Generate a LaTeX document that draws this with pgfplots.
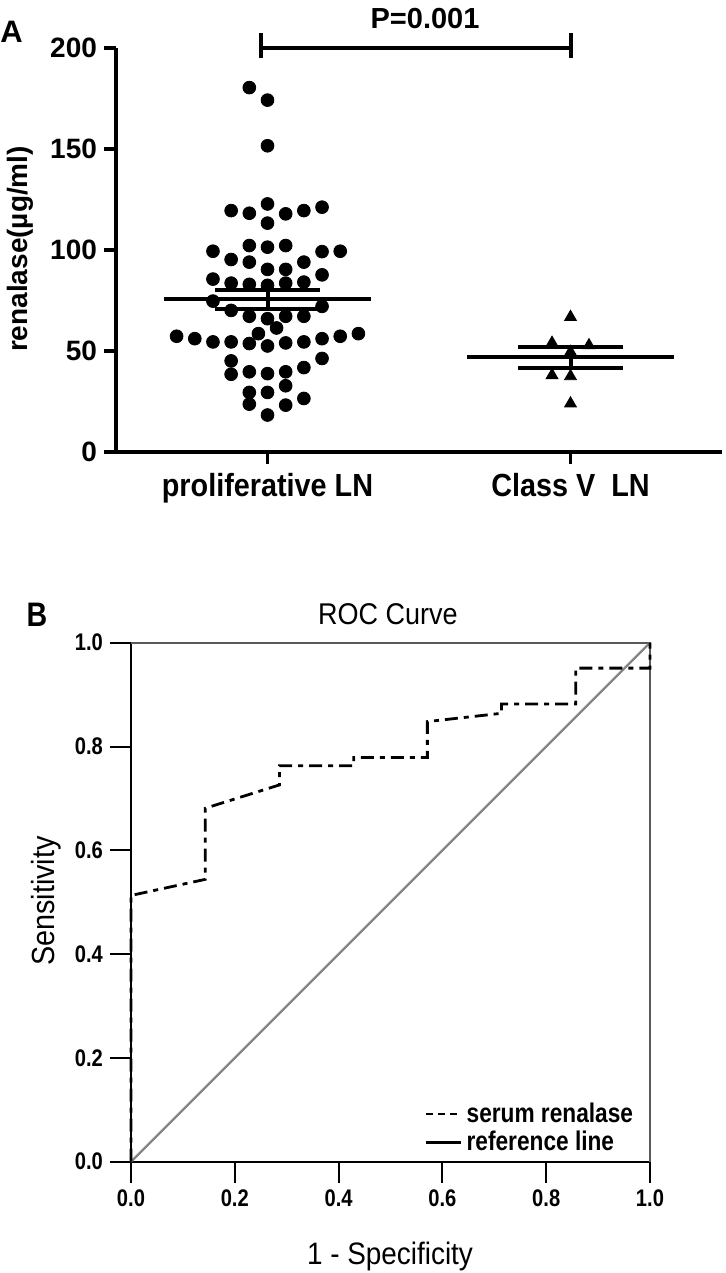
\documentclass[border=0pt]{standalone}
\usepackage{fontspec}
\setmainfont{Liberation Sans}
\newfontfamily\narrow{Liberation Sans}[FakeStretch=0.84]
\newfontfamily\semi{Liberation Sans}[FakeStretch=0.9]
\usepackage{pgfplots}
\pgfplotsset{compat=1.18}
\usepackage{pgfplotstable}

\pgfplotstableread{
x y
0.940 180.4
1.000 174.2
1.000 151.6
1.000 122.8
0.880 119.5
0.940 118.2
1.060 117.9
1.120 119.5
1.180 121.2
1.000 113.3
0.940 102.2
1.000 101.4
1.060 102.2
0.820 99.4
1.180 99.2
1.240 99.4
0.880 95.3
0.940 94.0
1.120 94.0
1.000 90.4
1.060 90.4
0.820 85.6
1.180 87.7
0.880 83.6
0.940 83.0
1.000 82.5
1.060 83.6
1.120 84.1
0.820 74.7
1.180 72.1
0.880 70.1
0.940 67.2
1.000 66.0
1.060 67.2
1.120 67.2
1.030 61.4
0.970 58.6
0.700 57.3
0.760 56.1
0.820 54.5
0.880 54.5
0.940 53.7
1.000 52.5
1.060 54.0
1.120 54.5
1.180 56.1
1.240 57.3
1.300 58.6
0.880 45.1
1.180 46.3
0.880 38.5
0.940 39.7
1.000 38.8
1.060 39.7
1.120 41.8
0.940 29.5
1.000 29.5
1.060 32.8
0.940 23.7
1.060 23.2
1.120 26.5
1.000 18.3
}\prolif

\pgfplotstableread{
x y
2.000 66.8
1.939 54.0
2.061 52.8
2.000 49.5
1.939 38.0
2.000 37.5
2.000 24.0
}\classv

\pgfplotstableread{
x y
0.000 0.000
0.000 0.513
0.143 0.544
0.143 0.681
0.286 0.726
0.286 0.763
0.429 0.763
0.429 0.779
0.571 0.779
0.571 0.848
0.714 0.864
0.714 0.882
0.857 0.882
0.857 0.951
1.000 0.951
1.000 1.000
}\roc

\begin{document}
\begin{tikzpicture}
\useasboundingbox (0,0) rectangle (363pt,-636.5pt);

% ---------------- Panel A ----------------
\begin{axis}[
  at={(58pt,-226pt)}, anchor=south west,
  scale only axis, width=303pt, height=202pt,
  xmin=0.5, xmax=2.5, ymin=0, ymax=200,
  axis x line=bottom, axis y line=left,
  axis line style={-, line width=2pt, black},
  xtick={1,2}, xticklabels={proliferative LN, Class V\ \ LN},
  ytick={0,50,100,150,200},
  tick align=outside, major tick length=6pt,
  tick style={line width=1.8pt, black},
  yticklabel style={font=\fontsize{14}{16}\selectfont\bfseries},
  xticklabel style={font=\semi\bfseries\fontsize{16}{18}\selectfont, yshift=-1pt},
  /pgf/number format/assume math mode=true,
  clip=false,
]
\addplot[only marks, mark=*, mark size=3.2pt, mark options={fill=black, draw=black}] table {\prolif};
\addplot[only marks, mark=triangle*, mark size=3.4pt, mark options={fill=black, draw=black}] table {\classv};
% mean and SEM, group 1
\addplot[black, line width=2pt] coordinates {(0.66,75.5) (1.34,75.5)};
\addplot[black, line width=2pt] coordinates {(0.828,80.3) (1.172,80.3)};
\addplot[black, line width=2pt] coordinates {(0.828,71.0) (1.172,71.0)};
\addplot[black, line width=2pt] coordinates {(1,71.0) (1,80.3)};
% mean and SEM, group 2
\addplot[black, line width=2pt] coordinates {(1.66,46.8) (2.34,46.8)};
\addplot[black, line width=2pt] coordinates {(1.828,52.0) (2.172,52.0)};
\addplot[black, line width=2pt] coordinates {(1.828,41.5) (2.172,41.5)};
\addplot[black, line width=2pt] coordinates {(2,41.5) (2,52.0)};
% significance bracket
\addplot[black, line width=2pt] coordinates {(0.977,200) (2,200)};
\addplot[black, line width=2pt] coordinates {(0.977,195) (0.977,207.4)};
\addplot[black, line width=2pt] coordinates {(2,195) (2,207.4)};
\node[font=\fontsize{14.5}{16}\selectfont\bfseries] at (axis cs:1.52,214.8) {P=0.001};
\end{axis}

\node[font=\fontsize{15.5}{17}\selectfont\bfseries] at (5.75pt,-16pt) {A};
\node[rotate=90, font=\fontsize{14}{16}\selectfont\bfseries] at (10pt,-124.5pt) {renalase(µg/ml)};

% ---------------- Panel B ----------------
\begin{axis}[
  at={(65.5pt,-580.85pt)}, anchor=south west,
  scale only axis, width=259.5pt, height=259.5pt,
  xmin=0, xmax=1, ymin=0, ymax=1,
  axis x line=bottom, axis y line=left,
  axis line style={-, line width=1pt, black},
  xtick={0,0.2,0.4,0.6,0.8,1}, ytick={0,0.2,0.4,0.6,0.8,1},
  tick align=outside, major tick length=10.5pt,
  tick style={line width=1pt, black},
  ticklabel style={font=\narrow\bfseries\fontsize{12}{14}\selectfont},
  /pgf/number format/fixed, /pgf/number format/fixed zerofill,
  /pgf/number format/precision=1,
  /pgf/number format/assume math mode=true,
  clip=false,
  legend style={draw=none, fill=none, at={(rel axis cs:0.565,0.007)}, anchor=south west,
    font=\narrow\bfseries\fontsize{13.5}{15}\selectfont, inner sep=0pt, row sep=-1pt},
  legend cell align=left,
  legend image code/.code={\draw[#1] (0pt,0pt) -- (17.5pt,0pt);},
]
\draw[black!65, line width=0.9pt] (rel axis cs:0,1) -- (rel axis cs:1,1) -- (rel axis cs:1,0);
\addplot[color={rgb,1:red,0.52;green,0.52;blue,0.52}, line width=1.1pt, forget plot] coordinates {(0,0) (1,1)};
\addplot[black, line width=1.4pt, dash pattern=on 6.5pt off 3pt on 2.5pt off 3pt, forget plot] table {\roc};
\addlegendimage{black, line width=1.3pt, dash pattern=on 3.5pt off 2.5pt}
\addlegendentry{serum renalase}
\addlegendimage{black, line width=1.5pt}
\addlegendentry{reference line}
\end{axis}

\node[font=\narrow\bfseries\fontsize{17}{19}\selectfont] at (18.5pt,-307.25pt) {B};
\node[font=\semi\fontsize{15}{17}\selectfont] at (194pt,-307.25pt) {ROC Curve};
\node[font=\semi\fontsize{15.5}{17}\selectfont] at (195pt,-628pt) {1 - Specificity};
\node[rotate=90, font=\semi\fontsize{16}{18}\selectfont] at (23pt,-450.5pt) {Sensitivity};
\end{tikzpicture}
\end{document}
